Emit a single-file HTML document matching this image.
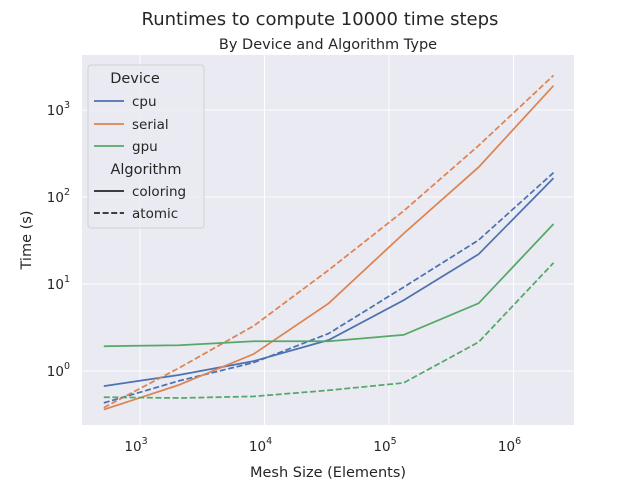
<!DOCTYPE html>
<html><head><meta charset="utf-8"><style>
body{margin:0;background:#fff;}
svg text{font-family:"DejaVu Sans","Liberation Sans",sans-serif;fill:#262626;}
</style></head><body>
<svg width="640" height="480" xmlns="http://www.w3.org/2000/svg">
<text x="320" y="25" text-anchor="middle" font-size="18">Runtimes to compute 10000 time steps</text>
<text x="328" y="49" text-anchor="middle" font-size="14.5">By Device and Algorithm Type</text>
<rect x="82" y="55" width="492" height="370" fill="#eaeaf2"/>
<g id="grid"></g>
<g id="ticks"></g>
<g id="series"></g>
<text x="328" y="477" text-anchor="middle" font-size="14.5">Mesh Size (Elements)</text>
<text transform="translate(31,240) rotate(-90)" text-anchor="middle" font-size="14.5">Time (s)</text>
<g>
<rect x="88" y="65" width="116" height="163" rx="3" fill="#eaeaf2" stroke="#cccccc" opacity="0.85"/>
<text x="135" y="83" text-anchor="middle" font-size="14.5">Device</text>
<line x1="94" y1="101" x2="124" y2="101" stroke="#4c72b0" stroke-width="1.75"/><text x="132" y="106" font-size="13.5">cpu</text>
<line x1="94" y1="124" x2="124" y2="124" stroke="#dd8452" stroke-width="1.75"/><text x="132" y="129" font-size="13.5">serial</text>
<line x1="94" y1="146" x2="124" y2="146" stroke="#55a868" stroke-width="1.75"/><text x="132" y="151" font-size="13.5">gpu</text>
<text x="146" y="174" text-anchor="middle" font-size="14.5">Algorithm</text>
<line x1="94" y1="191" x2="124" y2="191" stroke="#262626" stroke-width="1.75"/><text x="132" y="196" font-size="13.5">coloring</text>
<line x1="94" y1="213" x2="124" y2="213" stroke="#262626" stroke-width="1.75" stroke-dasharray="6,2.6"/><text x="132" y="218" font-size="13.5">atomic</text>
</g>
</svg>
<script>
const meshSizes=[512,2048,8192,32768,131072,524288,2097152];
const cpuColoring=[0.67,0.9,1.3,2.27,6.5,22,165];
const cpuAtomic=[0.43,0.77,1.25,2.7,9.2,32,190];
const serialColoring=[0.36,0.69,1.57,6,38,220,1900];
const serialAtomic=[0.38,1.08,3.3,14.5,69,390,2500];
const gpuColoring=[1.93,1.98,2.2,2.2,2.6,6,49];
const gpuAtomic=[0.5,0.49,0.51,0.6,0.73,2.15,17.5];
const xTicks=[3,4,5,6];
const yTicks=[0,1,2,3];
const NS="http://www.w3.org/2000/svg";
function xs(v){return 140+(Math.log10(v)-3)*124.5;}
function ys(v){return 371-Math.log10(v)*87;}
function mk(t,a){const e=document.createElementNS(NS,t);for(const k in a)e.setAttribute(k,a[k]);return e;}
const grid=document.getElementById('grid'),ticks=document.getElementById('ticks'),ser=document.getElementById('series');
xTicks.forEach(p=>{const x=xs(Math.pow(10,p));
 const l=mk('line',{x1:x,x2:x,y1:55,y2:425,stroke:'#fff','stroke-width':1});
 
 grid.appendChild(l);
 const t=mk('text',{x:x-4,y:451,'text-anchor':'middle','font-size':13.5});t.textContent='10';
 const s=mk('tspan',{dy:-7,'font-size':9.5});s.textContent=p;t.appendChild(s);
 
 ticks.appendChild(t);});
yTicks.forEach(p=>{const y=ys(Math.pow(10,p));
 const l=mk('line',{x1:82,x2:574,y1:y,y2:y,stroke:'#fff','stroke-width':1});
 
 grid.appendChild(l);
 const t=mk('text',{x:70,y:y+5,'text-anchor':'end','font-size':13.5});t.textContent='10';
 const s=mk('tspan',{dy:-7,'font-size':9.5});s.textContent=p;t.appendChild(s);
 
 ticks.appendChild(t);});
function line(vals,color,dash,name){
 const d=vals.map((v,i)=>(i?'L':'M')+xs(meshSizes[i]).toFixed(1)+','+ys(v).toFixed(1)).join('');
 const p=mk('path',{d:d,fill:'none',stroke:color,'stroke-width':1.75});
 if(dash)p.setAttribute('stroke-dasharray','6,2.6');
 
 ser.appendChild(p);}
line(cpuColoring,'#4c72b0',false,'cpu-coloring-line');
line(cpuAtomic,'#4c72b0',true,'cpu-atomic-line');
line(serialColoring,'#dd8452',false,'serial-coloring-line');
line(serialAtomic,'#dd8452',true,'serial-atomic-line');
line(gpuColoring,'#55a868',false,'gpu-coloring-line');
line(gpuAtomic,'#55a868',true,'gpu-atomic-line');
</script>
</body></html>
